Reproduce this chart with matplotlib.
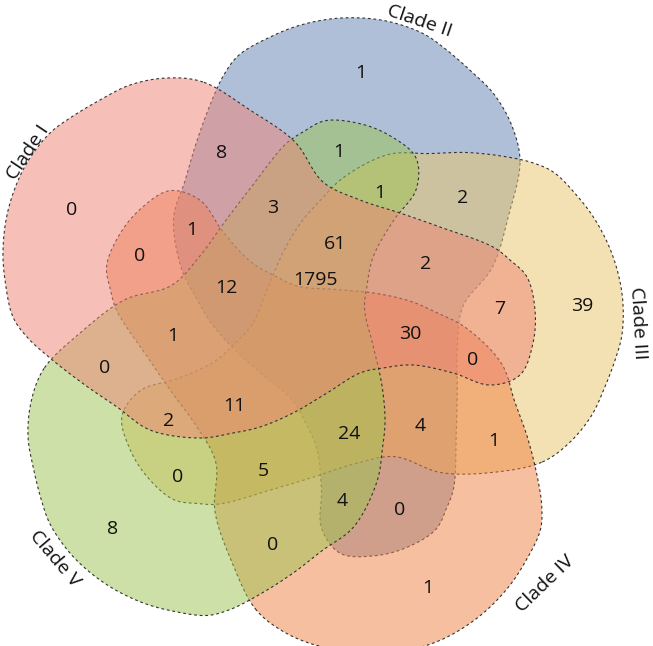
import numpy as np
import matplotlib.pyplot as plt
from matplotlib.patches import Polygon

plt.rcParams['font.family'] = ['Open Sans', 'DejaVu Sans']

# ---- data (set order: Clade I, II, III, IV, V) ----
clades = ['Clade I', 'Clade II', 'Clade III', 'Clade IV', 'Clade V']
only_one = [0, 1, 39, 1, 8]          # outer lobe, one clade only
pair_next = [0, 8, 2, 1, 0]          # lobe edge shared with neighbour
pair_tip = [0, 1, 7, 0, 0]           # tip of another clade inside the lobe
triple_tip = [1, 1, 0, 4, 2]
inner_ring = [1, 3, 2, 4, 5]
four_sets = [12, 61, 30, 24, 11]
all_five = 1795

colors = ['#ef8375', '#6181b1', '#ebc569', '#ef8141', '#9bc351']

# ---- layout ----
# outline of Clade I (image pixels), other clades are rotated copies
outline_px = [
    (203, 82), (167, 78), (130, 85), (100, 100), (70, 118), (50, 133), (30, 158),
    (17, 183), (7, 215), (3, 250), (5, 280), (13, 317), (27, 337), (50, 358),
    (85, 385), (117, 407), (150, 430), (200, 438), (233, 433), (260, 427),
    (293, 413), (327, 393), (360, 373), (383, 368), (413, 365), (453, 373),
    (490, 385), (520, 375), (533, 343), (535, 310), (527, 277), (510, 260),
    (493, 247), (440, 227), (400, 213), (360, 200), (323, 182), (295, 142),
    (250, 110),
]
cx, cy = 311, 341
set_rot = [0, -72, -144, 144, 72]
lobe_scale = [1.0, 0.97, 0.76, 0.87, 0.88]
shift_px = [(0, 0), (-3, 3), (0, -20), (8, 0), (8, 5)]   # (right, down)
draw_order = [1, 2, 3, 4, 0]
base_ang = 149
# (angle offset, radius) of each label ring relative to the clade direction
rings = [(only_one, 2.4, 273), (pair_next, 38.4, 208), (pair_tip, 4.6, 191),
         (triple_tip, -11.8, 163), (inner_ring, 29, 138), (four_sets, -0.8, 100)]
label_ang = [146.3, 71.2, 3.2, 314, 220.3]
label_r = [340, 338, 328, 337, 336]


def catmull(pts, n=24):
    pts = np.asarray(pts, float)
    P = np.vstack([pts[-1], pts, pts[0], pts[1]])
    out = []
    for i in range(1, len(pts) + 1):
        p0, p1, p2, p3 = P[i - 1], P[i], P[i + 1], P[i + 2]
        t0 = 0
        t1 = t0 + np.linalg.norm(p1 - p0) ** 0.5
        t2 = t1 + np.linalg.norm(p2 - p1) ** 0.5
        t3 = t2 + np.linalg.norm(p3 - p2) ** 0.5
        t = np.linspace(t1, t2, n, endpoint=False)[:, None]
        A1 = (t1 - t) / (t1 - t0) * p0 + (t - t0) / (t1 - t0) * p1
        A2 = (t2 - t) / (t2 - t1) * p1 + (t - t1) / (t2 - t1) * p2
        A3 = (t3 - t) / (t3 - t2) * p2 + (t - t2) / (t3 - t2) * p3
        B1 = (t2 - t) / (t2 - t0) * A1 + (t - t0) / (t2 - t0) * A2
        B2 = (t3 - t) / (t3 - t1) * A2 + (t - t1) / (t3 - t1) * A3
        out.append((t2 - t) / (t2 - t1) * B1 + (t - t1) / (t2 - t1) * B2)
    return np.vstack(out)


def rotate(xy, deg):
    a = np.radians(deg)
    R = np.array([[np.cos(a), -np.sin(a)], [np.sin(a), np.cos(a)]])
    return xy @ R.T


def shape_for(k, r0=240):
    # rotated copy of the base outline, outer lobe pulled in, then nudged
    xy = rotate(base, set_rot[k])
    r = np.hypot(xy[:, 0], xy[:, 1])
    rn = np.where(r > r0, r0 + (r - r0) * lobe_scale[k], r)
    xy = xy * (rn / r)[:, None]
    xy = xy + np.array([shift_px[k][0], -shift_px[k][1]])
    return catmull(xy)


base = np.array([(x - cx, cy - y) for x, y in outline_px], float)

fig = plt.figure(figsize=(6.53, 6.46), dpi=100)
ax = fig.add_axes([0, 0, 1, 1])
ax.set_xlim(-cx, 653 - cx)
ax.set_ylim(cy - 646, cy)
ax.axis('off')

for k in draw_order:
    shape = shape_for(k)
    ax.add_patch(Polygon(shape, closed=True, facecolor=colors[k],
                         alpha=0.5, edgecolor='none'))
    ax.add_patch(Polygon(shape, closed=True, fill=False, edgecolor='#333333',
                         lw=0.8, linestyle=(0, (2.5, 2.5))))

for vals, off, r in rings:
    for k in range(5):
        a = np.radians(base_ang + set_rot[k] + off)
        ax.text(r * np.cos(a), r * np.sin(a), str(vals[k]), fontsize=14,
                ha='center', va='center', color='#111111')
ax.text(4, 61, str(all_five), fontsize=14, ha='center', va='center', color='#111111')

for k in range(5):
    a = label_ang[k]
    rot = (a - 90 + 180) % 360 - 180
    if rot < -90:
        rot += 180
    elif rot > 90:
        rot -= 180
    ax.text(label_r[k] * np.cos(np.radians(a)), label_r[k] * np.sin(np.radians(a)),
            clades[k], fontsize=14, rotation=rot, rotation_mode='anchor',
            ha='center', va='center', color='#111111')

fig.savefig('out.png', dpi=100)
